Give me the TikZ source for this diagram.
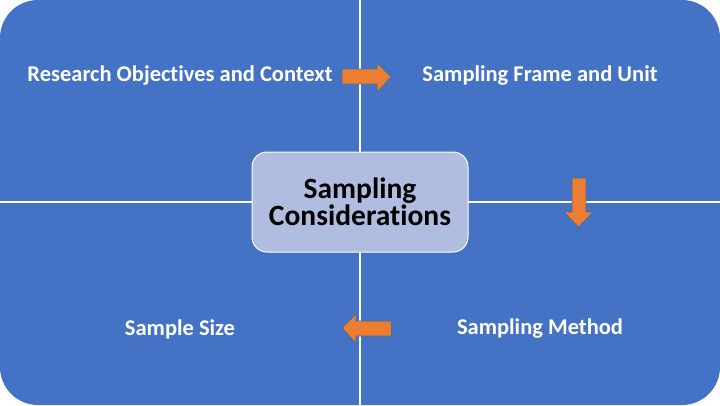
\documentclass[tikz,border=0pt]{standalone}
\usepackage{fontspec}
\setmainfont{Carlito}[Ligatures=NoCommon]
\usetikzlibrary{shapes.arrows}
\definecolor{bgblue}{HTML}{4472C4}
\definecolor{boxblue}{HTML}{B0BCE0}
\definecolor{arrorange}{HTML}{ED7D31}
\definecolor{arredge}{HTML}{41719C}
\begin{document}
\begin{tikzpicture}[x=1pt,y=-1pt,
  quadlabel/.style={text=white,font=\fontsize{22.5}{26}\selectfont\bfseries,anchor=center,inner sep=0pt},
  centerbox/.style={draw=white,line width=1pt,fill=boxblue,rounded corners=15pt,minimum width=216pt,minimum height=100pt,align=center,font=\fontsize{29.5}{30}\selectfont\bfseries,text=black},
  blockarrow/.style={fill=arrorange,draw=arredge,line width=0.6pt,line join=miter},
  divider/.style={draw=white,line width=1.3pt}]
\useasboundingbox (0,0) rectangle (720,405);
\fill[white] (0,0) rectangle (720,405);
\fill[bgblue,rounded corners=38pt] (0,0) rectangle (720,405);
\coordinate (top) at (360,0);
\coordinate (bottom) at (360,405);
\coordinate (left) at (0,202);
\coordinate (right) at (720,202);
\draw[divider] (top) -- (bottom);
\draw[divider] (left) -- (right);
\node[centerbox] (center) at (360,202) {Sampling\\[-3pt]Considerations};
\node[quadlabel] (objectives) at (180,76) {Research Objectives and Context};
\node[quadlabel] (frame) at (540,76) {Sampling Frame and Unit};
\node[quadlabel] (method) at (540,329) {Sampling Method};
\node[quadlabel] (size) at (180,329) {Sample Size};
% right arrow
\draw[blockarrow] (342,69) -- (377,69) -- (377,63) -- (391,77) -- (377,92) -- (377,84) -- (342,84) -- cycle;
% down arrow
\draw[blockarrow] (572,178) -- (586,178) -- (586,212) -- (593,212) -- (578.5,227) -- (564,212) -- (572,212) -- cycle;
% left arrow
\draw[blockarrow] (391.5,321) -- (356,321) -- (356,314) -- (342,328) -- (356,343) -- (356,336) -- (391.5,336) -- cycle;
\end{tikzpicture}
\end{document}
